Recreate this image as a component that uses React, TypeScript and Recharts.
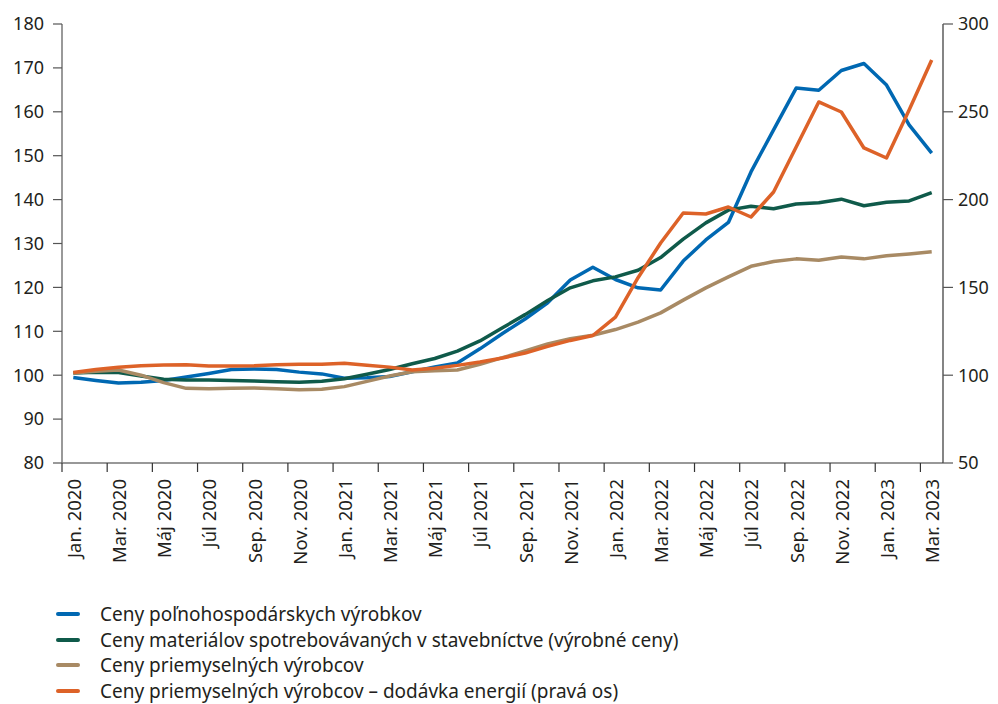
import React from 'react';
import { LineChart, Line, XAxis, YAxis } from 'recharts';

const months = [
  'Jan. 2020', 'Feb. 2020', 'Mar. 2020', 'Apr. 2020', 'Máj 2020', 'Jún 2020',
  'Júl 2020', 'Aug. 2020', 'Sep. 2020', 'Okt. 2020', 'Nov. 2020', 'Dec. 2020',
  'Jan. 2021', 'Feb. 2021', 'Mar. 2021', 'Apr. 2021', 'Máj 2021', 'Jún 2021',
  'Júl 2021', 'Aug. 2021', 'Sep. 2021', 'Okt. 2021', 'Nov. 2021', 'Dec. 2021',
  'Jan. 2022', 'Feb. 2022', 'Mar. 2022', 'Apr. 2022', 'Máj 2022', 'Jún 2022',
  'Júl 2022', 'Aug. 2022', 'Sep. 2022', 'Okt. 2022', 'Nov. 2022', 'Dec. 2022',
  'Jan. 2023', 'Feb. 2023', 'Mar. 2023',
];

const agri = [
  99.5, 98.8, 98.2, 98.4, 98.8, 99.6, 100.4, 101.3, 101.4, 101.3, 100.7, 100.3,
  99.3, 99.4, 99.7, 100.8, 101.9, 102.8, 106.0, 109.5, 112.8, 116.5, 121.7, 124.6,
  121.8, 119.9, 119.4, 126.0, 130.8, 134.8, 146.3, 155.9, 165.4, 164.9, 169.4, 171.0,
  166.1, 157.0, 150.6,
];

const construction = [
  100.5, 100.7, 100.6, 99.8, 99.1, 98.9, 98.9, 98.8, 98.7, 98.5, 98.4, 98.6,
  99.2, 100.2, 101.3, 102.6, 103.8, 105.5, 107.8, 110.8, 113.8, 117.0, 119.9, 121.5,
  122.4, 123.9, 126.8, 131.0, 134.7, 137.6, 138.5, 137.9, 139.0, 139.3, 140.1, 138.6,
  139.4, 139.7, 141.6,
];

const industry = [
  100.5, 100.9, 101.2, 100.0, 98.3, 97.0, 96.9, 97.0, 97.1, 96.9, 96.7, 96.8,
  97.4, 98.6, 99.8, 100.8, 101.0, 101.2, 102.5, 104.0, 105.5, 107.1, 108.3, 109.1,
  110.4, 112.1, 114.2, 117.1, 119.9, 122.4, 124.8, 125.9, 126.5, 126.2, 126.9, 126.5,
  127.2, 127.6, 128.1,
];

const energy = [
  101.5, 103.2, 104.5, 105.4, 105.8, 106.0, 105.2, 105.3, 105.4, 105.9, 106.2, 106.2,
  106.8, 105.6, 104.6, 103.0, 104.0, 105.6, 107.5, 109.8, 112.6, 116.4, 119.8, 122.6,
  133.1, 155.5, 175.3, 192.4, 191.8, 195.8, 190.1, 204.3, 230.0, 255.6, 249.9, 229.4,
  223.7, 251.0, 279.5,
];

const seriesKeys = ['agri', 'construction', 'industry', 'energy'];
const seriesNames = [
  'Ceny poľnohospodárskych výrobkov',
  'Ceny materiálov spotrebovávaných v stavebníctve (výrobné ceny)',
  'Ceny priemyselných výrobcov',
  'Ceny priemyselných výrobcov – dodávka energií (pravá os)',
];
const seriesColors = ['#0068b2', '#0f5a4a', '#a88a64', '#dd6228'];
const seriesAxis = ['left', 'left', 'left', 'right'];

const leftTicks = [80, 90, 100, 110, 120, 130, 140, 150, 160, 170, 180];
const rightTicks = [50, 100, 150, 200, 250, 300];

const data = months.map((m, i) => ({
  idx: i,
  month: m,
  agri: agri[i],
  construction: construction[i],
  industry: industry[i],
  energy: energy[i],
}));

// tick marks at the left edge of every second month band
const xTicks = months.map((_, i) => i - 0.5).filter((_, i) => i % 2 === 0);

const FONT = '"Noto Sans", "DejaVu Sans", sans-serif';
const TEXT = '#231f20';
const W = 998;
const H = 580;
const LEFT_W = 62;
const RIGHT_W = 55;
const plotW = W - LEFT_W - RIGHT_W;
const halfBand = plotW / months.length / 2;

function XTick(props: any) {
  const { x, y, payload } = props;
  const label = months[Math.round(payload.value + 0.5)];
  return (
    <g>
      <line x1={x} y1={y} x2={x} y2={y + 9} stroke="#333" strokeWidth={1.2} />
      <text
        transform={`translate(${x + halfBand},${y + 16}) rotate(-90)`}
        textAnchor="end"
        dominantBaseline="central"
        fontSize={18.5}
        fontFamily={FONT}
        fill={TEXT}
      >
        {label}
      </text>
    </g>
  );
}

export default function App() {
  return (
    <div style={{ position: 'absolute', left: 0, top: 0, width: 998, height: 704, background: '#fff', fontFamily: FONT }}>
      <LineChart width={W} height={H} data={data} margin={{ top: 24, right: 0, bottom: 17, left: 0 }}>
        <XAxis
          dataKey="idx"
          type="number"
          domain={[-0.5, months.length - 0.5]}
          ticks={xTicks}
          interval={0}
          tick={<XTick />}
          tickLine={false}
          tickSize={0}
          tickMargin={0}
          height={100}
          axisLine={{ stroke: '#333', strokeWidth: 1.2 }}
        />
        <YAxis
          yAxisId="left"
          orientation="left"
          width={LEFT_W}
          domain={[80, 180]}
          ticks={leftTicks}
          interval={0}
          tickSize={9}
          tickMargin={9}
          tick={{ fontSize: 18, fill: TEXT, fontFamily: FONT }}
          tickLine={{ stroke: '#555', strokeWidth: 1.2 }}
          axisLine={{ stroke: '#777', strokeWidth: 1.5 }}
        />
        <YAxis
          yAxisId="right"
          orientation="right"
          width={RIGHT_W}
          domain={[50, 300]}
          ticks={rightTicks}
          interval={0}
          tickSize={10}
          tickMargin={5}
          tick={{ fontSize: 18, fill: TEXT, fontFamily: FONT }}
          tickLine={{ stroke: '#555', strokeWidth: 1.2 }}
          axisLine={{ stroke: '#333', strokeWidth: 1.2 }}
        />
        {seriesKeys.map((k, i) => (
          <Line
            key={k}
            yAxisId={seriesAxis[i]}
            dataKey={k}
            name={seriesNames[i]}
            type="linear"
            stroke={seriesColors[i]}
            strokeWidth={3.5}
            strokeLinejoin="round"
            dot={false}
            activeDot={false}
            isAnimationActive={false}
          />
        ))}
      </LineChart>
      <div style={{ position: 'absolute', left: 0, top: 601 }}>
        {seriesNames.map((n, i) => (
          <div key={n} style={{ display: 'flex', alignItems: 'center', height: 25.7 }}>
            <span style={{ display: 'inline-block', marginLeft: 56, width: 24, height: 4, borderRadius: 2, background: seriesColors[i] }} />
            <span style={{ marginLeft: 20, fontSize: 19, color: TEXT, whiteSpace: 'nowrap' }}>{n}</span>
          </div>
        ))}
      </div>
    </div>
  );
}
